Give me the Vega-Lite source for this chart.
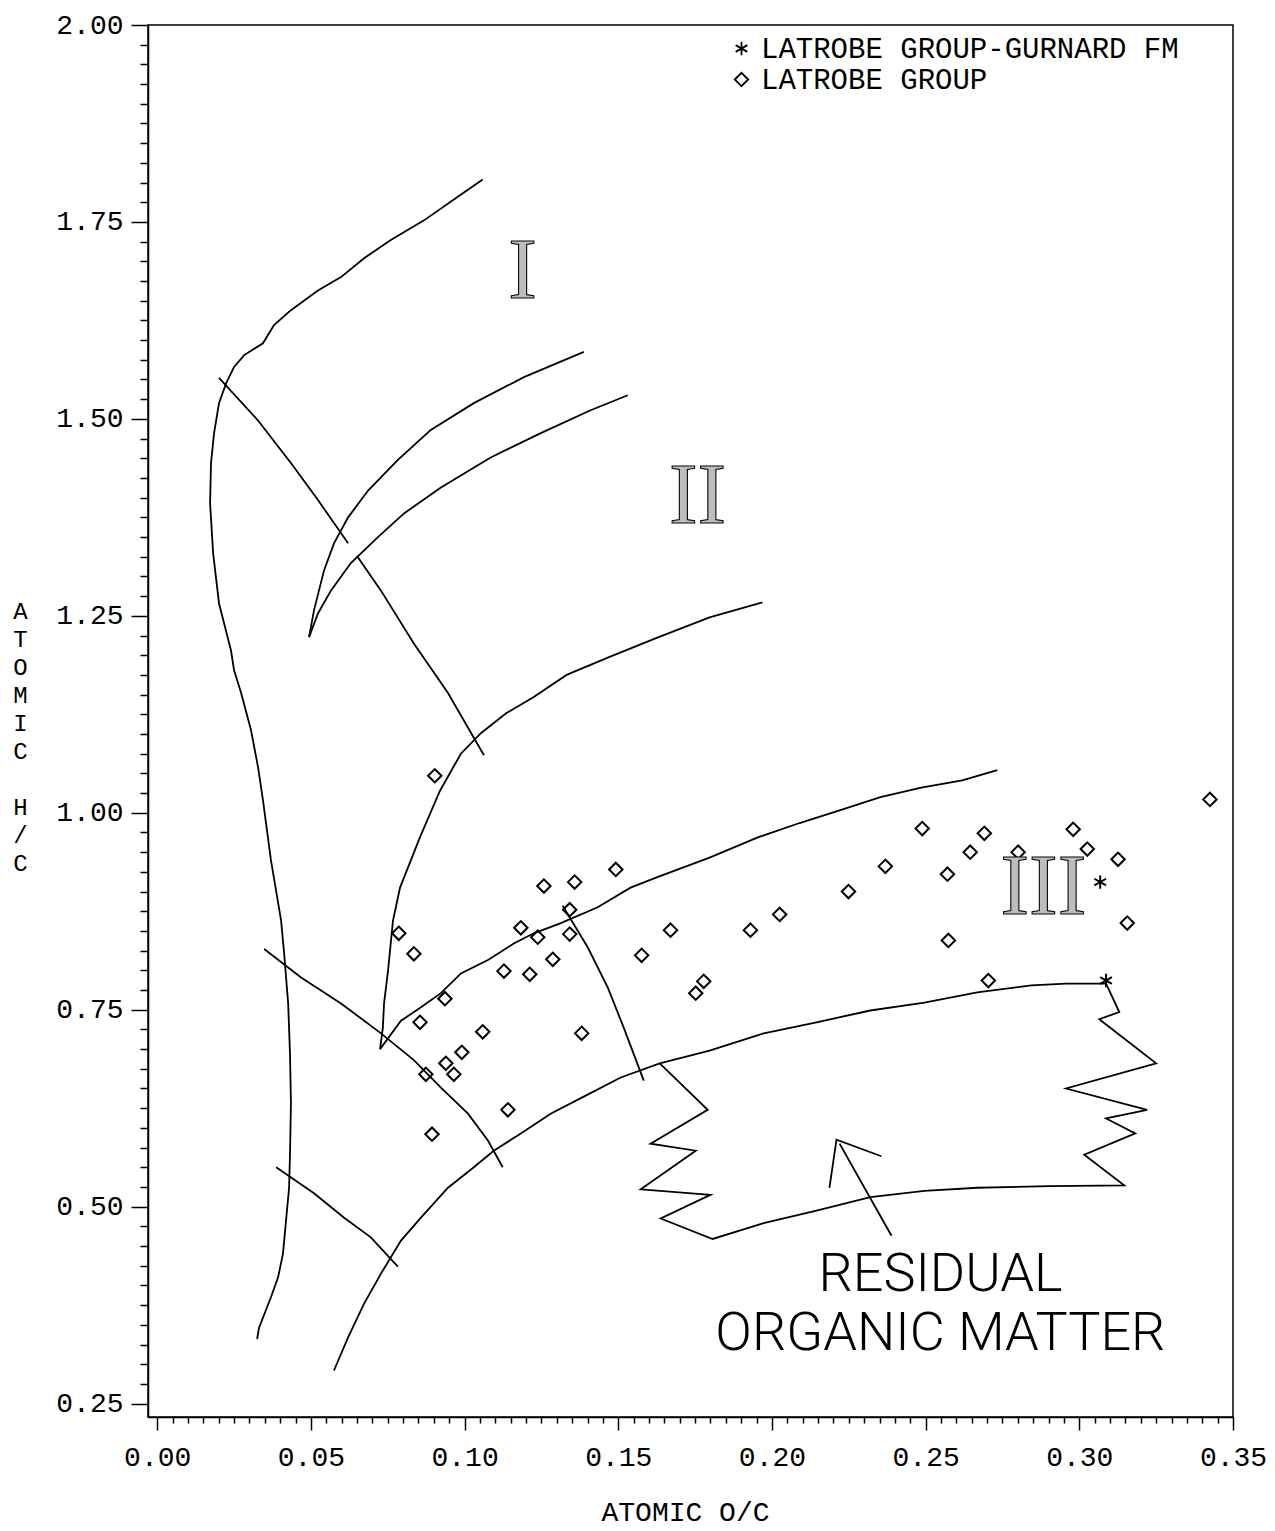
{
  "$schema": "https://vega.github.io/schema/vega-lite/v6.json",
  "width": 1085,
  "height": 1392,
  "autosize": "none",
  "padding": {"left": 148, "top": 25, "right": 42, "bottom": 114},
  "background": "white",
  "config": {"view": {"stroke": "black", "strokeWidth": 1.5}},
  "datasets": {
    "curves": [
      {"c":"A","i":0,"x":0.1059,"y":1.804},{"c":"A","i":1,"x":0.0978,"y":1.782},{"c":"A","i":2,"x":0.0868,"y":1.752},{"c":"A","i":3,"x":0.0760,"y":1.727},{"c":"A","i":4,"x":0.0673,"y":1.704},{"c":"A","i":5,"x":0.0598,"y":1.680},{"c":"A","i":6,"x":0.0523,"y":1.663},{"c":"A","i":7,"x":0.0435,"y":1.638},{"c":"A","i":8,"x":0.0380,"y":1.619},{"c":"A","i":9,"x":0.0344,"y":1.596},{"c":"A","i":10,"x":0.0283,"y":1.581},{"c":"A","i":11,"x":0.0250,"y":1.566},{"c":"A","i":12,"x":0.0224,"y":1.545},{"c":"A","i":13,"x":0.0201,"y":1.520},{"c":"A","i":14,"x":0.0185,"y":1.482},{"c":"A","i":15,"x":0.0175,"y":1.444},{"c":"A","i":16,"x":0.0172,"y":1.393},{"c":"A","i":17,"x":0.0182,"y":1.329},{"c":"A","i":18,"x":0.0201,"y":1.266},{"c":"A","i":19,"x":0.0240,"y":1.206},{"c":"A","i":20,"x":0.0250,"y":1.181},{"c":"A","i":21,"x":0.0273,"y":1.152},{"c":"A","i":22,"x":0.0305,"y":1.105},{"c":"A","i":23,"x":0.0328,"y":1.058},{"c":"A","i":24,"x":0.0344,"y":1.016},{"c":"A","i":25,"x":0.0370,"y":0.940},{"c":"A","i":26,"x":0.0403,"y":0.863},{"c":"A","i":27,"x":0.0413,"y":0.821},{"c":"A","i":28,"x":0.0426,"y":0.758},{"c":"A","i":29,"x":0.0432,"y":0.694},{"c":"A","i":30,"x":0.0435,"y":0.631},{"c":"A","i":31,"x":0.0432,"y":0.567},{"c":"A","i":32,"x":0.0429,"y":0.524},{"c":"A","i":33,"x":0.0419,"y":0.482},{"c":"A","i":34,"x":0.0409,"y":0.440},{"c":"A","i":35,"x":0.0393,"y":0.410},{"c":"A","i":36,"x":0.0370,"y":0.385},{"c":"A","i":37,"x":0.0331,"y":0.346},{"c":"A","i":38,"x":0.0325,"y":0.332},
      {"c":"B","i":0,"x":0.1388,"y":1.585},{"c":"B","i":1,"x":0.1193,"y":1.553},{"c":"B","i":2,"x":0.1030,"y":1.520},{"c":"B","i":3,"x":0.0890,"y":1.486},{"c":"B","i":4,"x":0.0783,"y":1.448},{"c":"B","i":5,"x":0.0686,"y":1.409},{"c":"B","i":6,"x":0.0621,"y":1.375},{"c":"B","i":7,"x":0.0575,"y":1.342},{"c":"B","i":8,"x":0.0543,"y":1.308},{"c":"B","i":9,"x":0.0510,"y":1.257},{"c":"B","i":10,"x":0.0494,"y":1.223},
      {"c":"C","i":0,"x":0.1531,"y":1.530},{"c":"C","i":1,"x":0.1410,"y":1.511},{"c":"C","i":2,"x":0.1248,"y":1.482},{"c":"C","i":3,"x":0.1085,"y":1.451},{"c":"C","i":4,"x":0.0923,"y":1.413},{"c":"C","i":5,"x":0.0803,"y":1.380},{"c":"C","i":6,"x":0.0718,"y":1.350},{"c":"C","i":7,"x":0.0630,"y":1.317},{"c":"C","i":8,"x":0.0565,"y":1.282},{"c":"C","i":9,"x":0.0523,"y":1.253},{"c":"C","i":10,"x":0.0494,"y":1.223},
      {"c":"D","i":0,"x":0.1969,"y":1.267},{"c":"D","i":1,"x":0.1797,"y":1.248},{"c":"D","i":2,"x":0.1625,"y":1.222},{"c":"D","i":3,"x":0.1466,"y":1.197},{"c":"D","i":4,"x":0.1332,"y":1.175},{"c":"D","i":5,"x":0.1225,"y":1.147},{"c":"D","i":6,"x":0.1134,"y":1.126},{"c":"D","i":7,"x":0.1053,"y":1.101},{"c":"D","i":8,"x":0.0988,"y":1.075},{"c":"D","i":9,"x":0.0920,"y":1.028},{"c":"D","i":10,"x":0.0855,"y":0.969},{"c":"D","i":11,"x":0.0790,"y":0.905},{"c":"D","i":12,"x":0.0767,"y":0.863},{"c":"D","i":13,"x":0.0751,"y":0.800},{"c":"D","i":14,"x":0.0738,"y":0.758},{"c":"D","i":15,"x":0.0734,"y":0.727},{"c":"D","i":16,"x":0.0725,"y":0.700},
      {"c":"E","i":0,"x":0.0725,"y":0.700},{"c":"E","i":1,"x":0.0793,"y":0.736},{"c":"E","i":2,"x":0.0858,"y":0.753},{"c":"E","i":3,"x":0.0923,"y":0.771},{"c":"E","i":4,"x":0.0988,"y":0.796},{"c":"E","i":5,"x":0.1076,"y":0.813},{"c":"E","i":6,"x":0.1160,"y":0.834},{"c":"E","i":7,"x":0.1225,"y":0.847},{"c":"E","i":8,"x":0.1313,"y":0.860},{"c":"E","i":9,"x":0.1433,"y":0.880},{"c":"E","i":10,"x":0.1540,"y":0.905},{"c":"E","i":11,"x":0.1625,"y":0.918},{"c":"E","i":12,"x":0.1797,"y":0.943},{"c":"E","i":13,"x":0.1956,"y":0.969},{"c":"E","i":14,"x":0.2090,"y":0.987},{"c":"E","i":15,"x":0.2220,"y":1.003},{"c":"E","i":16,"x":0.2353,"y":1.020},{"c":"E","i":17,"x":0.2486,"y":1.032},{"c":"E","i":18,"x":0.2619,"y":1.041},{"c":"E","i":19,"x":0.2733,"y":1.054},
      {"c":"F","i":0,"x":0.0575,"y":0.292},{"c":"F","i":1,"x":0.0621,"y":0.334},{"c":"F","i":2,"x":0.0673,"y":0.377},{"c":"F","i":3,"x":0.0728,"y":0.415},{"c":"F","i":4,"x":0.0793,"y":0.457},{"c":"F","i":5,"x":0.0858,"y":0.486},{"c":"F","i":6,"x":0.0946,"y":0.524},{"c":"F","i":7,"x":0.1030,"y":0.550},{"c":"F","i":8,"x":0.1095,"y":0.571},{"c":"F","i":9,"x":0.1183,"y":0.593},{"c":"F","i":10,"x":0.1280,"y":0.618},{"c":"F","i":11,"x":0.1394,"y":0.641},{"c":"F","i":12,"x":0.1508,"y":0.664},{"c":"F","i":13,"x":0.1635,"y":0.682},{"c":"F","i":14,"x":0.1797,"y":0.698},{"c":"F","i":15,"x":0.1973,"y":0.720},{"c":"F","i":16,"x":0.2145,"y":0.734},{"c":"F","i":17,"x":0.2320,"y":0.749},{"c":"F","i":18,"x":0.2496,"y":0.759},{"c":"F","i":19,"x":0.2668,"y":0.772},{"c":"F","i":20,"x":0.2844,"y":0.781},{"c":"F","i":21,"x":0.2957,"y":0.783},{"c":"F","i":22,"x":0.3087,"y":0.783},
      {"c":"R","i":0,"x":0.1635,"y":0.682},{"c":"R","i":1,"x":0.1791,"y":0.623},{"c":"R","i":2,"x":0.1605,"y":0.580},{"c":"R","i":3,"x":0.1752,"y":0.571},{"c":"R","i":4,"x":0.1573,"y":0.522},{"c":"R","i":5,"x":0.1800,"y":0.515},{"c":"R","i":6,"x":0.1638,"y":0.485},{"c":"R","i":7,"x":0.1807,"y":0.459},{"c":"R","i":8,"x":0.1973,"y":0.479},{"c":"R","i":9,"x":0.2145,"y":0.495},{"c":"R","i":10,"x":0.2320,"y":0.512},{"c":"R","i":11,"x":0.2496,"y":0.520},{"c":"R","i":12,"x":0.2668,"y":0.524},{"c":"R","i":13,"x":0.2902,"y":0.526},{"c":"R","i":14,"x":0.3146,"y":0.527},{"c":"R","i":15,"x":0.3016,"y":0.566},{"c":"R","i":16,"x":0.3182,"y":0.593},{"c":"R","i":17,"x":0.3087,"y":0.612},{"c":"R","i":18,"x":0.3221,"y":0.623},{"c":"R","i":19,"x":0.2957,"y":0.650},{"c":"R","i":20,"x":0.3250,"y":0.682},{"c":"R","i":21,"x":0.3065,"y":0.738},{"c":"R","i":22,"x":0.3130,"y":0.747},{"c":"R","i":23,"x":0.3087,"y":0.783},
      {"c":"S","i":0,"x":0.2389,"y":0.463},{"c":"S","i":1,"x":0.2220,"y":0.580},
      {"c":"H","i":0,"x":0.2187,"y":0.524},{"c":"H","i":1,"x":0.2210,"y":0.585},{"c":"H","i":2,"x":0.2356,"y":0.564},
      {"c":"L1","i":0,"x":0.0201,"y":1.552},{"c":"L1","i":1,"x":0.0328,"y":1.498},{"c":"L1","i":2,"x":0.0435,"y":1.444},{"c":"L1","i":3,"x":0.0523,"y":1.397},{"c":"L1","i":4,"x":0.0621,"y":1.342},
      {"c":"L2","i":0,"x":0.0650,"y":1.326},{"c":"L2","i":1,"x":0.0728,"y":1.282},{"c":"L2","i":2,"x":0.0835,"y":1.215},{"c":"L2","i":3,"x":0.0946,"y":1.152},{"c":"L2","i":4,"x":0.1063,"y":1.073},
      {"c":"L3","i":0,"x":0.0348,"y":0.827},{"c":"L3","i":1,"x":0.0468,"y":0.791},{"c":"L3","i":2,"x":0.0598,"y":0.758},{"c":"L3","i":3,"x":0.0728,"y":0.720},{"c":"L3","i":4,"x":0.0835,"y":0.686},{"c":"L3","i":5,"x":0.0923,"y":0.651},{"c":"L3","i":6,"x":0.1011,"y":0.618},{"c":"L3","i":7,"x":0.1076,"y":0.584},{"c":"L3","i":8,"x":0.1124,"y":0.550},
      {"c":"L4","i":0,"x":0.0387,"y":0.550},{"c":"L4","i":1,"x":0.0510,"y":0.517},{"c":"L4","i":2,"x":0.0608,"y":0.486},{"c":"L4","i":3,"x":0.0695,"y":0.461},{"c":"L4","i":4,"x":0.0783,"y":0.424},
      {"c":"L5","i":0,"x":0.1319,"y":0.882},{"c":"L5","i":1,"x":0.1401,"y":0.829},{"c":"L5","i":2,"x":0.1466,"y":0.778},{"c":"L5","i":3,"x":0.1518,"y":0.727},{"c":"L5","i":4,"x":0.1583,"y":0.660}
    ],
    "points": [
      {"g":"LATROBE GROUP","x":0.0786,"y":0.847},{"g":"LATROBE GROUP","x":0.0835,"y":0.821},{"g":"LATROBE GROUP","x":0.1258,"y":0.907},{"g":"LATROBE GROUP","x":0.1358,"y":0.912},{"g":"LATROBE GROUP","x":0.1492,"y":0.928},{"g":"LATROBE GROUP","x":0.1342,"y":0.877},{"g":"LATROBE GROUP","x":0.1183,"y":0.854},{"g":"LATROBE GROUP","x":0.1238,"y":0.842},{"g":"LATROBE GROUP","x":0.1342,"y":0.846},{"g":"LATROBE GROUP","x":0.1287,"y":0.814},{"g":"LATROBE GROUP","x":0.1128,"y":0.799},{"g":"LATROBE GROUP","x":0.1212,"y":0.795},{"g":"LATROBE GROUP","x":0.1576,"y":0.819},{"g":"LATROBE GROUP","x":0.0936,"y":0.764},{"g":"LATROBE GROUP","x":0.0855,"y":0.734},{"g":"LATROBE GROUP","x":0.1059,"y":0.722},{"g":"LATROBE GROUP","x":0.1381,"y":0.720},{"g":"LATROBE GROUP","x":0.0991,"y":0.696},{"g":"LATROBE GROUP","x":0.0939,"y":0.682},{"g":"LATROBE GROUP","x":0.0965,"y":0.668},{"g":"LATROBE GROUP","x":0.0874,"y":0.668},{"g":"LATROBE GROUP","x":0.1141,"y":0.623},{"g":"LATROBE GROUP","x":0.0894,"y":0.592},{"g":"LATROBE GROUP","x":0.0903,"y":1.047},{"g":"LATROBE GROUP","x":0.1670,"y":0.851},{"g":"LATROBE GROUP","x":0.1752,"y":0.771},{"g":"LATROBE GROUP","x":0.1778,"y":0.786},{"g":"LATROBE GROUP","x":0.1930,"y":0.851},{"g":"LATROBE GROUP","x":0.2025,"y":0.871},{"g":"LATROBE GROUP","x":0.2249,"y":0.900},{"g":"LATROBE GROUP","x":0.2369,"y":0.932},{"g":"LATROBE GROUP","x":0.2489,"y":0.980},{"g":"LATROBE GROUP","x":0.2571,"y":0.922},{"g":"LATROBE GROUP","x":0.2645,"y":0.950},{"g":"LATROBE GROUP","x":0.2691,"y":0.974},{"g":"LATROBE GROUP","x":0.2801,"y":0.950},{"g":"LATROBE GROUP","x":0.2980,"y":0.979},{"g":"LATROBE GROUP","x":0.3026,"y":0.954},{"g":"LATROBE GROUP","x":0.3126,"y":0.941},{"g":"LATROBE GROUP","x":0.3156,"y":0.860},{"g":"LATROBE GROUP","x":0.2574,"y":0.838},{"g":"LATROBE GROUP","x":0.2704,"y":0.787},{"g":"LATROBE GROUP","x":0.3425,"y":1.017},
      {"g":"LATROBE GROUP-GURNARD FM","x":0.3068,"y":0.912},{"g":"LATROBE GROUP-GURNARD FM","x":0.3087,"y":0.787}
    ],
    "labels": [
      {"k":"roman","t":"I","x":0.1189,"y":1.686},
      {"k":"roman","t":"II","x":0.1758,"y":1.401},
      {"k":"roman","t":"III","x":0.2883,"y":0.905},
      {"k":"note","t":"RESIDUAL\nORGANIC MATTER","x":0.2548,"y":0.413}
    ]
  },
  "encoding": {
    "x": {
      "field": "x", "type": "quantitative",
      "scale": {"domain": [-0.003, 0.35], "nice": false, "zero": false},
      "axis": {
        "values": [0,0.005,0.01,0.015,0.02,0.025,0.03,0.035,0.04,0.045,0.05,0.055,0.06,0.065,0.07,0.075,0.08,0.085,0.09,0.095,0.1,0.105,0.11,0.115,0.12,0.125,0.13,0.135,0.14,0.145,0.15,0.155,0.16,0.165,0.17,0.175,0.18,0.185,0.19,0.195,0.2,0.205,0.21,0.215,0.22,0.225,0.23,0.235,0.24,0.245,0.25,0.255,0.26,0.265,0.27,0.275,0.28,0.285,0.29,0.295,0.3,0.305,0.31,0.315,0.32,0.325,0.33,0.335,0.34,0.345,0.35],
        "labelExpr": "abs(datum.value*20-round(datum.value*20))<0.001 ? format(datum.value,'.2f') : ''",
        "tickSize": {"condition": {"test": "abs(datum.value*20-round(datum.value*20))<0.001", "value": 13}, "value": 6},
        "tickColor": "black", "tickWidth": 1.5, "domainColor": "black", "domainWidth": 1.5,
        "labelFont": "Liberation Mono", "labelFontSize": 28, "labelColor": "black", "labelPadding": 13, "labelOverlap": false, "labelFlush": false, "labelBaseline": "top",
        "grid": false,
        "title": "ATOMIC O/C", "titleFont": "Liberation Mono", "titleFontSize": 28, "titleFontWeight": "normal", "titleColor": "black",
        "titleX": 537, "titleY": 95, "titleAlign": "center", "titleBaseline": "middle", "titleAnchor": null
      }
    },
    "y": {
      "field": "y", "type": "quantitative",
      "scale": {"domain": [0.233, 2.0], "nice": false, "zero": false},
      "axis": {
        "values": [0.25,0.275,0.3,0.325,0.35,0.375,0.4,0.425,0.45,0.475,0.5,0.525,0.55,0.575,0.6,0.625,0.65,0.675,0.7,0.725,0.75,0.775,0.8,0.825,0.85,0.875,0.9,0.925,0.95,0.975,1,1.025,1.05,1.075,1.1,1.125,1.15,1.175,1.2,1.225,1.25,1.275,1.3,1.325,1.35,1.375,1.4,1.425,1.45,1.475,1.5,1.525,1.55,1.575,1.6,1.625,1.65,1.675,1.7,1.725,1.75,1.775,1.8,1.825,1.85,1.875,1.9,1.925,1.95,1.975,2],
        "labelExpr": "abs(datum.value*4-round(datum.value*4))<0.001 ? format(datum.value,'.2f') : ''",
        "tickSize": {"condition": {"test": "abs(datum.value*4-round(datum.value*4))<0.001", "value": 17}, "value": 8},
        "tickColor": "black", "tickWidth": 1.5, "domainColor": "black", "domainWidth": 1.5,
        "labelFont": "Liberation Mono", "labelFontSize": 28, "labelColor": "black", "labelPadding": 8, "labelOverlap": false, "labelFlush": false,
        "grid": false,
        "title": ["A","T","O","M","I","C","\u200b","H","/","C"],
        "titleFont": "Liberation Mono", "titleFontSize": 24, "titleFontWeight": "normal", "titleColor": "black", "titleLineHeight": 28,
        "titleAngle": 0, "titleX": -128, "titleY": 586, "titleAlign": "center", "titleBaseline": "middle", "titleAnchor": null
      }
    }
  },
  "layer": [
    {
      "data": {"name": "curves"},
      "mark": {"type": "line", "stroke": "black", "strokeWidth": 1.8, "interpolate": "linear"},
      "encoding": {
        "detail": {"field": "c", "type": "nominal"},
        "order": {"field": "i", "type": "quantitative"}
      }
    },
    {
      "data": {"name": "points"},
      "mark": {"type": "point", "filled": false, "color": "black", "strokeWidth": 2, "size": 180, "opacity": 1},
      "encoding": {
        "shape": {
          "field": "g", "type": "nominal",
          "scale": {"domain": ["LATROBE GROUP-GURNARD FM", "LATROBE GROUP"], "range": ["M0,-1L0,1M-0.87,-0.5L0.87,0.5M-0.87,0.5L0.87,-0.5", "diamond"]},
          "legend": {
            "title": null, "orient": "none", "legendX": 579, "legendY": 9,
            "symbolSize": 180, "symbolStrokeWidth": 1.8, "symbolStrokeColor": "black", "symbolFillColor": "transparent",
            "labelFont": "Liberation Mono", "labelFontSize": 29, "labelColor": "black", "labelOffset": 5, "rowPadding": 1, "labelLimit": 700
          }
        }
      }
    },
    {
      "data": {"name": "labels"},
      "transform": [{"filter": "datum.k === 'roman'"}],
      "mark": {"type": "text", "font": "Liberation Serif", "fontSize": 86, "fill": "#bdbdbd", "stroke": "black", "strokeWidth": 1.1, "align": "center", "baseline": "middle"},
      "encoding": {"text": {"field": "t"}}
    },
    {
      "data": {"name": "labels"},
      "transform": [{"filter": "datum.k === 'note'"}],
      "mark": {"type": "text", "font": "Roboto", "fontWeight": 300, "fontSize": 54, "lineHeight": 59, "lineBreak": "\n", "fill": "black", "align": "center", "baseline": "middle"},
      "encoding": {"text": {"field": "t"}}
    }
  ]
}
